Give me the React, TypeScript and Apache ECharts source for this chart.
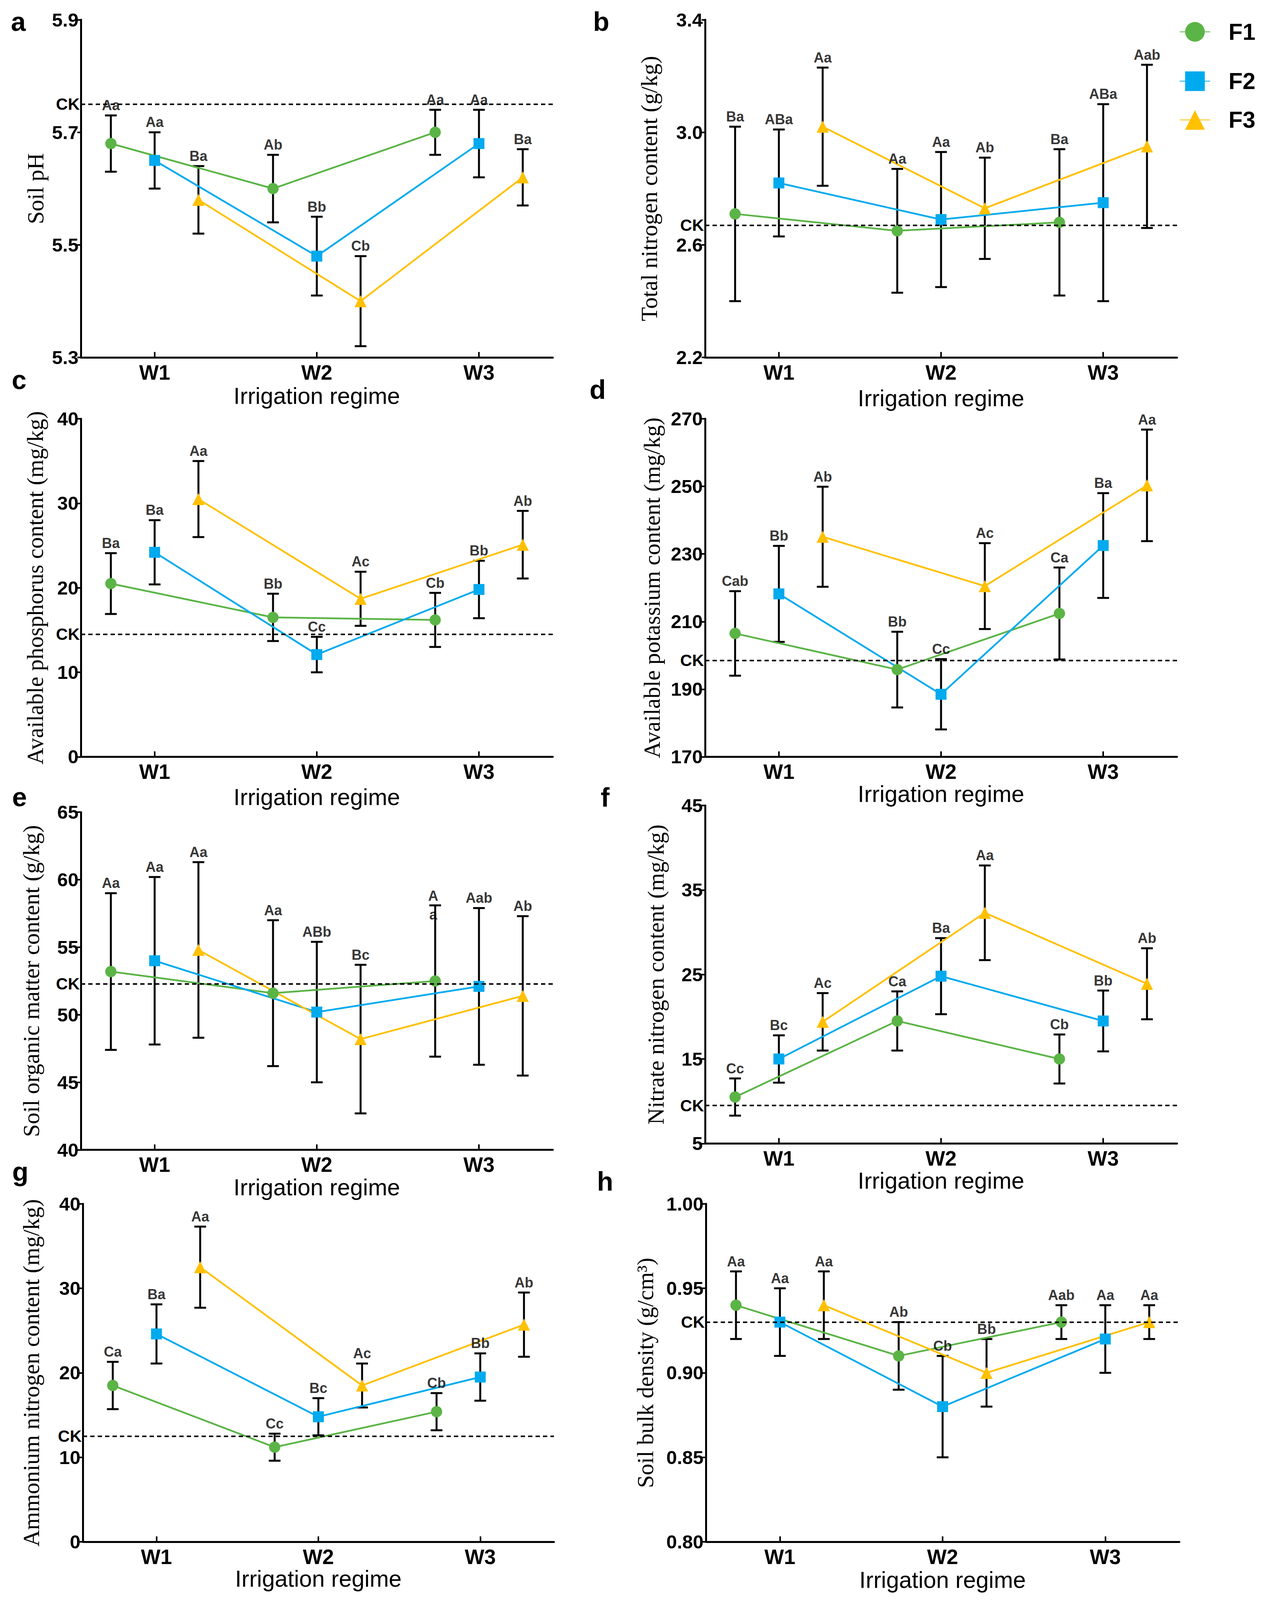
import React, { useEffect, useRef } from "react";
import * as echarts from "echarts";

const categories = ["W1", "W2", "W3"];
const treatments = ["F1", "F2", "F3"];

// a – Soil pH
const phMeans = [[5.68, 5.60, 5.70], [5.65, 5.48, 5.68], [5.58, 5.40, 5.62]];
const phErrs = [[0.05, 0.06, 0.04], [0.05, 0.07, 0.06], [0.06, 0.08, 0.05]];
const phSigs = [["Aa", "Ab", "Aa"], ["Aa", "Bb", "Aa"], ["Ba", "Cb", "Ba"]];
const phCK = 5.75;
const phTicks = ["5.3", "5.5", "5.7", "5.9"];

// b – Total nitrogen
const tnMeans = [[2.71, 2.65, 2.68], [2.82, 2.69, 2.75], [3.02, 2.73, 2.95]];
const tnErrs = [[0.31, 0.22, 0.26], [0.19, 0.24, 0.35], [0.21, 0.18, 0.29]];
const tnSigs = [["Ba", "Aa", "Ba"], ["ABa", "Aa", "ABa"], ["Aa", "Ab", "Aab"]];
const tnCK = 2.67;
const tnTicks = ["2.2", "2.6", "3.0", "3.4"];

// c – Available phosphorus
const apMeans = [[20.5, 16.5, 16.2], [24.2, 12.1, 19.8], [30.5, 18.7, 25.1]];
const apErrs = [[3.6, 2.8, 3.2], [3.8, 2.1, 3.4], [4.5, 3.2, 4.0]];
const apSigs = [["Ba", "Bb", "Cb"], ["Ba", "Cc", "Bb"], ["Aa", "Ac", "Ab"]];
const apCK = 14.5;
const apTicks = ["0", "10", "20", "30", "40"];

// d – Available potassium
const akMeans = [[206.5, 195.8, 212.4], [218.2, 188.5, 232.5], [235.1, 220.5, 250.3]];
const akErrs = [[12.5, 11.2, 13.6], [14.2, 10.4, 15.5], [14.8, 12.7, 16.5]];
const akSigs = [["Cab", "Bb", "Ca"], ["Bb", "Cc", "Ba"], ["Ab", "Ac", "Aa"]];
const akCK = 198.5;
const akTicks = ["170", "190", "210", "230", "250", "270"];

// e – Soil organic matter
const omMeans = [[53.2, 51.6, 52.5], [54.0, 50.2, 52.1], [54.8, 48.2, 51.4]];
const omErrs = [[5.8, 5.4, 5.6], [6.2, 5.2, 5.8], [6.5, 5.5, 5.9]];
const omSigs = [["Aa", "Aa", "A\na"], ["Aa", "ABb", "Aab"], ["Aa", "Bc", "Ab"]];
const omCK = 52.3;
const omTicks = ["40", "45", "50", "55", "60", "65"];

// f – Nitrate nitrogen
const nnMeans = [[10.5, 19.5, 15.0], [15.0, 24.8, 19.5], [19.4, 32.3, 23.9]];
const nnErrs = [[2.2, 3.5, 2.9], [2.8, 4.5, 3.6], [3.4, 5.6, 4.2]];
const nnSigs = [["Cc", "Ca", "Cb"], ["Bc", "Ba", "Bb"], ["Ac", "Aa", "Ab"]];
const nnCK = 9.5;
const nnTicks = ["5", "15", "25", "35", "45"];

// g – Ammonium nitrogen
const anMeans = [[18.5, 11.2, 15.4], [24.6, 14.8, 19.5], [32.5, 18.5, 25.7]];
const anErrs = [[2.8, 1.6, 2.2], [3.5, 2.2, 2.8], [4.8, 2.6, 3.8]];
const anSigs = [["Ca", "Cc", "Cb"], ["Ba", "Bc", "Bb"], ["Aa", "Ac", "Ab"]];
const anCK = 12.5;
const anTicks = ["0", "10", "20", "30", "40"];

// h – Soil bulk density
const bdMeans = [[0.94, 0.91, 0.93], [0.93, 0.88, 0.92], [0.94, 0.90, 0.93]];
const bdErrs = [[0.02, 0.02, 0.01], [0.02, 0.03, 0.02], [0.02, 0.02, 0.01]];
const bdSigs = [["Aa", "Ab", "Aab"], ["Aa", "Cb", "Aa"], ["Aa", "Bb", "Aa"]];
const bdCK = 0.93;
const bdTicks = ["0.80", "0.85", "0.90", "0.95", "1.00"];

const yTitles = [
  "Soil pH",
  "Total nitrogen content (g/kg)",
  "Available phosphorus content (mg/kg)",
  "Available potassium content (mg/kg)",
  "Soil organic matter content (g/kg)",
  "Nitrate nitrogen content (mg/kg)",
  "Ammonium nitrogen content (mg/kg)",
  "Soil bulk density (g/cm\u00B3)",
];
const xTitle = "Irrigation regime";
const panelLetters = ["a", "b", "c", "d", "e", "f", "g", "h"];

const panelData = [
  { means: phMeans, errs: phErrs, sigs: phSigs, ck: phCK, ticks: phTicks },
  { means: tnMeans, errs: tnErrs, sigs: tnSigs, ck: tnCK, ticks: tnTicks },
  { means: apMeans, errs: apErrs, sigs: apSigs, ck: apCK, ticks: apTicks },
  { means: akMeans, errs: akErrs, sigs: akSigs, ck: akCK, ticks: akTicks },
  { means: omMeans, errs: omErrs, sigs: omSigs, ck: omCK, ticks: omTicks },
  { means: nnMeans, errs: nnErrs, sigs: nnSigs, ck: nnCK, ticks: nnTicks },
  { means: anMeans, errs: anErrs, sigs: anSigs, ck: anCK, ticks: anTicks },
  { means: bdMeans, errs: bdErrs, sigs: bdSigs, ck: bdCK, ticks: bdTicks },
];

// layout in reference pixels (3246 x 4539), scaled to the actual viewport
const REF_W = 3246;
const REF_H = 4539;
const layouts = [
  { left: 207, top: 56, width: 1208, height: 958, yGap: 87, xGap: 77, lx: 47, lb: 88 },
  { left: 1805, top: 56, width: 1208, height: 958, yGap: 114, xGap: 84, lx: 1539, lb: 88 },
  { left: 207, top: 1188, width: 1208, height: 959, yGap: 88, xGap: 82, lx: 49, lb: 1104 },
  { left: 1805, top: 1188, width: 1208, height: 959, yGap: 107, xGap: 73, lx: 1530, lb: 1131 },
  { left: 207, top: 2304, width: 1208, height: 958, yGap: 98, xGap: 74, lx: 50, lb: 2287 },
  { left: 1805, top: 2285, width: 1208, height: 959, yGap: 97, xGap: 68, lx: 1549, lb: 2288 },
  { left: 212, top: 3415, width: 1206, height: 959, yGap: 103, xGap: 72, lx: 52, lb: 3350 },
  { left: 1807, top: 3415, width: 1212, height: 959, yGap: 126, xGap: 76, lx: 1549, lb: 3378 },
];

const COLORS = ["#5BB446", "#00AAEE", "#FFC000"];
const SYMBOLS = ["circle", "rect", "triangle"];
const SYMBOL_SIZES = [31, 29, 33];
const OFFSETS = [-0.27, 0, 0.27];
const legendCenters = [92, 232, 342];

const SANS = "'Liberation Sans', Arial, Helvetica, sans-serif";
const SERIF = "'Liberation Serif', 'Times New Roman', Times, serif";

function buildOption(sx: number, sy: number) {
  const X = (v: number) => v * sx;
  const Y = (v: number) => v * sy;
  const fs = (sx + sy) / 2;
  const F = (v: number) => Math.round(v * fs);

  const renderErrorBar = (params: any, api: any) => {
    const x = api.value(0);
    const m = api.value(1);
    const e = api.value(2);
    const top = api.coord([x, m + e]);
    const bot = api.coord([x, m - e]);
    const hw = X(15);
    const style = { stroke: "#000", lineWidth: 5 };
    return {
      type: "group",
      children: [
        { type: "line", shape: { x1: top[0], y1: top[1], x2: bot[0], y2: bot[1] }, style },
        { type: "line", shape: { x1: top[0] - hw, y1: top[1], x2: top[0] + hw, y2: top[1] }, style },
        { type: "line", shape: { x1: bot[0] - hw, y1: bot[1], x2: bot[0] + hw, y2: bot[1] }, style },
      ],
    };
  };

  const grid: any[] = [];
  const xAxis: any[] = [];
  const yAxis: any[] = [];
  const series: any[] = [];
  const graphic: any[] = [];

  panelData.forEach((p, gi) => {
    const L = layouts[gi];
    grid.push({
      left: X(L.left),
      top: Y(L.top),
      width: X(L.width),
      height: Y(L.height),
      containLabel: false,
      outerBoundsMode: "none",
    });
    const tickVals = p.ticks.map((t) => parseFloat(t));
    xAxis.push({
      gridIndex: gi,
      type: "value",
      min: 0.545,
      max: 3.455,
      name: xTitle,
      nameLocation: "middle",
      nameGap: Y(L.xGap),
      nameTextStyle: { fontFamily: SANS, fontSize: F(62), color: "#000" },
      axisLine: { show: true, onZero: false, lineStyle: { color: "#000", width: 5 } },
      axisTick: { show: true, inside: true, length: 14, customValues: [1, 2, 3], lineStyle: { color: "#000", width: 4 } },
      axisLabel: {
        show: true,
        customValues: [1, 2, 3],
        formatter: (v: number) => categories[Math.round(v) - 1] ?? "",
        fontFamily: SANS,
        fontWeight: "bold",
        fontSize: F(56),
        color: "#000",
        margin: Y(13),
      },
      splitLine: { show: false },
    });
    yAxis.push({
      gridIndex: gi,
      type: "value",
      min: tickVals[0],
      max: tickVals[tickVals.length - 1],
      name: yTitles[gi],
      nameLocation: "middle",
      nameRotate: 90,
      nameGap: X(L.yGap),
      nameTextStyle: { fontFamily: SERIF, fontSize: F(62), color: "#000" },
      axisLine: { show: true, onZero: false, lineStyle: { color: "#000", width: 5 } },
      axisTick: { show: true, inside: false, length: 9, customValues: tickVals, lineStyle: { color: "#000", width: 4 } },
      axisLabel: {
        show: true,
        customValues: tickVals,
        formatter: (v: number) => p.ticks.find((t) => Math.abs(parseFloat(t) - v) < 1e-6) ?? String(v),
        fontFamily: SANS,
        fontWeight: "bold",
        fontSize: F(52),
        color: "#000",
        margin: 6,
      },
      splitLine: { show: false },
    });

    treatments.forEach((name, si) => {
      const xs = categories.map((_, ci) => ci + 1 + OFFSETS[si]);
      series.push({
        type: "line",
        name,
        xAxisIndex: gi,
        yAxisIndex: gi,
        z: 4,
        symbol: SYMBOLS[si],
        symbolSize: F(SYMBOL_SIZES[si]),
        color: COLORS[si],
        itemStyle: { color: COLORS[si] },
        lineStyle: { color: COLORS[si], width: 4.5 },
        data: xs.map((x, ci) => [x, p.means[si][ci]]),
        markLine:
          si === 0
            ? {
                silent: true,
                symbol: ["none", "none"],
                data: [{ yAxis: p.ck }],
                lineStyle: { type: [11, 8], color: "#000", width: 4 },
                label: {
                  show: true,
                  position: "start",
                  formatter: "CK",
                  fontFamily: SANS,
                  fontSize: F(44),
                  fontWeight: "bold",
                  color: "#000",
                  distance: 3,
                },
                emphasis: { disabled: true },
              }
            : undefined,
      });
      series.push({
        type: "custom",
        name: name + " error",
        xAxisIndex: gi,
        yAxisIndex: gi,
        z: 2,
        silent: true,
        renderItem: renderErrorBar,
        encode: { x: 0, y: 1 },
        data: xs.map((x, ci) => [x, p.means[si][ci], p.errs[si][ci]]),
      });
      series.push({
        type: "scatter",
        name: name + " letters",
        xAxisIndex: gi,
        yAxisIndex: gi,
        z: 5,
        silent: true,
        symbolSize: 1,
        itemStyle: { color: "rgba(0,0,0,0)" },
        label: {
          show: true,
          position: "top",
          distance: Y(8),
          formatter: "{b}",
          fontFamily: SANS,
          fontWeight: "bold",
          fontSize: F(38),
          color: "#000",
        },
        data: xs.map((x, ci) => {
          const s = p.sigs[si][ci];
          const item: any = { name: s, value: [x, p.means[si][ci] + p.errs[si][ci]] };
          if (s.includes("\n")) {
            item.label = { position: "inside", offset: [X(-5), 0], lineHeight: Y(53) };
          }
          return item;
        }),
      });
    });

    graphic.push({
      type: "text",
      x: X(L.lx),
      y: Y(L.lb) - F(25),
      style: {
        text: panelLetters[gi],
        fontFamily: SANS,
        fontWeight: "bold",
        fontSize: F(72),
        fill: "#000",
        align: "center",
        verticalAlign: "middle",
      },
    });
  });

  const legend = treatments.map((name, i) => ({
    data: [name],
    left: X(3019),
    top: Y(legendCenters[i]) - F(33),
    orient: "vertical",
    padding: 0,
    itemWidth: X(78),
    itemHeight: F(66),
    selectedMode: false,
    textStyle: {
      fontFamily: SANS,
      fontWeight: "bold",
      fontSize: F(62),
      color: "#000",
      padding: [0, 0, 0, X(42)],
    },
  }));

  return {
    animation: false,
    backgroundColor: "#fff",
    grid,
    xAxis,
    yAxis,
    series,
    legend,
    graphic,
  };
}

export default function App() {
  const ref = useRef<HTMLDivElement>(null);
  useEffect(() => {
    document.body.style.margin = "0";
    document.body.style.overflow = "hidden";
    const el = ref.current;
    if (!el) return;
    let w = window.innerWidth;
    let h = window.innerHeight;
    if (!w || w < 1000) w = REF_W;
    if (!h || h < 1000) h = REF_H;
    w = Math.min(w, REF_W);
    h = Math.min(h, REF_H);
    el.style.width = w + "px";
    el.style.height = h + "px";
    const chart = echarts.init(el, undefined, { renderer: "svg" });
    chart.setOption(buildOption(w / REF_W, h / REF_H) as any);
    return () => chart.dispose();
  }, []);
  return <div ref={ref} style={{ width: REF_W, height: REF_H, background: "#fff" }} />;
}
